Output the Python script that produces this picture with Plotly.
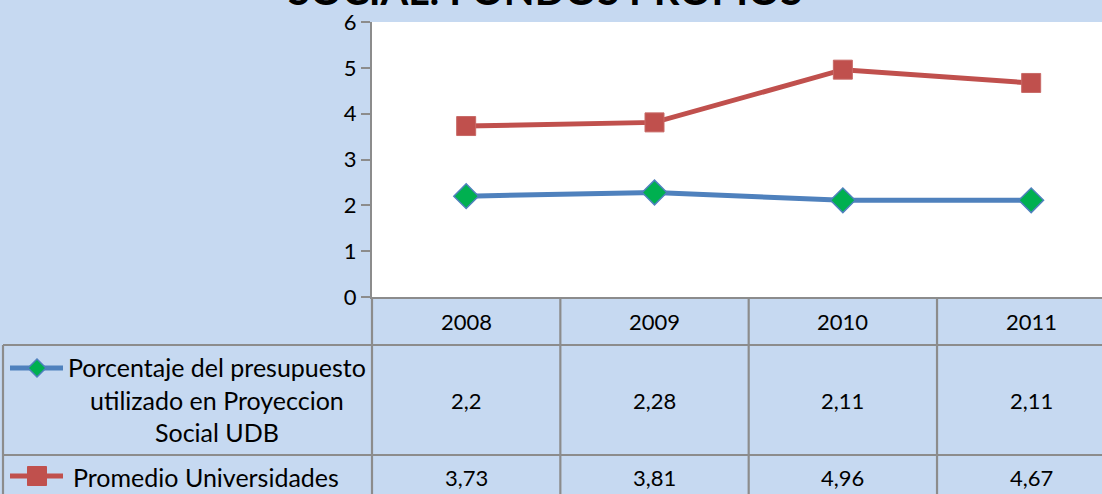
import plotly.graph_objects as go

# ---- data ----
years = ["2008", "2009", "2010", "2011"]
udb_values = [2.2, 2.28, 2.11, 2.11]
univ_values = [3.73, 3.81, 4.96, 4.67]
udb_name = "Porcentaje del presupuesto<br>utilizado en Proyeccion<br>Social UDB"
univ_name = "Promedio Universidades"
title_text = "SOCIAL: FONDOS PROPIOS"
y_ticks = [0, 1, 2, 3, 4, 5, 6]

# ---- layout constants ----
W, H = 1102, 494
L, R, T, B = 372, 0, 22, 197
PW, PH = W - L - R, H - T - B
BG = "#C6D9F1"
GRID = "#8C8C8C"
BLUE = "#4F81BD"
GREEN = "#00B050"
RED = "#C0504D"
FONT = "Lato"

def px(xp):
    return (xp - L) / PW

def py(yp):
    return (H - B - yp) / PH

def fmt(v):
    return str(v).replace(".", ",")

xi = list(range(len(years)))

fig = go.Figure()
fig.add_trace(go.Scatter(
    x=xi, y=udb_values, mode="lines+markers", name="udb",
    line=dict(color=BLUE, width=5),
    marker=dict(symbol="diamond", size=19, color=GREEN, line=dict(color=BLUE, width=1.5)),
    cliponaxis=False, showlegend=False))
fig.add_trace(go.Scatter(
    x=xi, y=univ_values, mode="lines+markers", name="univ",
    line=dict(color=RED, width=5),
    marker=dict(symbol="square", size=19, color=RED, line=dict(color="#C86A67", width=1)),
    cliponaxis=False, showlegend=False))

shapes = []
ann = []
lw = 2.2
row1_bot, row2_bot, table_bot = 345, 455, 520
table_left = 3
# horizontal table lines
for yp in (row1_bot, row2_bot):
    shapes.append(dict(type="line", xref="paper", yref="paper",
                       x0=px(table_left), x1=px(W + 10), y0=py(yp), y1=py(yp),
                       line=dict(color=GRID, width=lw)))
# left border of table
shapes.append(dict(type="line", xref="paper", yref="paper",
                   x0=px(table_left), x1=px(table_left), y0=py(row1_bot), y1=py(table_bot),
                   line=dict(color=GRID, width=lw)))
# vertical line under y axis
shapes.append(dict(type="line", xref="paper", yref="paper",
                   x0=0, x1=0, y0=0, y1=py(table_bot),
                   line=dict(color=GRID, width=lw)))
# column separators
for i in range(len(years) - 1):
    shapes.append(dict(type="line", xref="x", yref="paper",
                       x0=i + 0.5, x1=i + 0.5, y0=0, y1=py(table_bot),
                       line=dict(color=GRID, width=lw)))

def text_ann(x, y, text, xref="paper", size=22, **kw):
    d = dict(x=x, y=y, xref=xref, yref="paper", text=text, showarrow=False,
             xanchor="center", yanchor="middle",
             font=dict(size=size, color="black", family=FONT))
    d.update(kw)
    return d

# cell texts
row_centers = [(297 + row1_bot) / 2, (row1_bot + row2_bot) / 2, 477]
for i, yr in enumerate(years):
    ann.append(text_ann(i, py(row_centers[0]), yr, xref="x"))
    ann.append(text_ann(i, py(row_centers[1]), fmt(udb_values[i]), xref="x"))
    ann.append(text_ann(i, py(row_centers[2]), fmt(univ_values[i]), xref="x"))

# row headers
ann.append(text_ann(px(217), py(399), udb_name, size=25, align="center"))
ann.append(text_ann(px(206), py(row_centers[2]), univ_name, size=25))

# legend keys
k1y, k2y = 368, 476
shapes.append(dict(type="line", xref="paper", yref="paper", x0=px(10), x1=px(63),
                   y0=py(k1y), y1=py(k1y), line=dict(color=BLUE, width=5)))
d = 9
shapes.append(dict(type="path", xref="paper", yref="paper",
                   path=f"M {px(37-d)},{py(k1y)} L {px(37)},{py(k1y-d)} L {px(37+d)},{py(k1y)} L {px(37)},{py(k1y+d)} Z",
                   fillcolor=GREEN, line=dict(color=BLUE, width=1.5)))
shapes.append(dict(type="line", xref="paper", yref="paper", x0=px(10), x1=px(63),
                   y0=py(k2y), y1=py(k2y), line=dict(color=RED, width=5)))
s = 9.5
shapes.append(dict(type="rect", xref="paper", yref="paper",
                   x0=px(37-s), x1=px(37+s), y0=py(k2y-s), y1=py(k2y+s),
                   fillcolor=RED, line=dict(color=RED, width=1)))

# title (partially cut off at the top)
ann.append(text_ann(px(545), py(-10), f"<b>{title_text}</b>", size=40))

fig.update_layout(
    width=W, height=H,
    margin=dict(l=L, r=R, t=T, b=B, pad=0),
    paper_bgcolor=BG, plot_bgcolor="white",
    shapes=shapes, annotations=ann,
    xaxis=dict(range=[-0.5, 3.376], showticklabels=False, showgrid=False, zeroline=False,
               showline=True, linecolor=GRID, linewidth=lw, ticks=""),
    yaxis=dict(range=[0, 6], tickvals=y_ticks, ticktext=[str(t) for t in y_ticks],
               showgrid=False, zeroline=False,
               showline=True, linecolor=GRID, linewidth=lw,
               ticks="outside", ticklen=9, tickwidth=lw, tickcolor=GRID,
               tickfont=dict(size=22, color="black", family=FONT)),
)

fig.write_html("out.html", config={"displayModeBar": False},
               post_script="document.body.style.margin='0';")
